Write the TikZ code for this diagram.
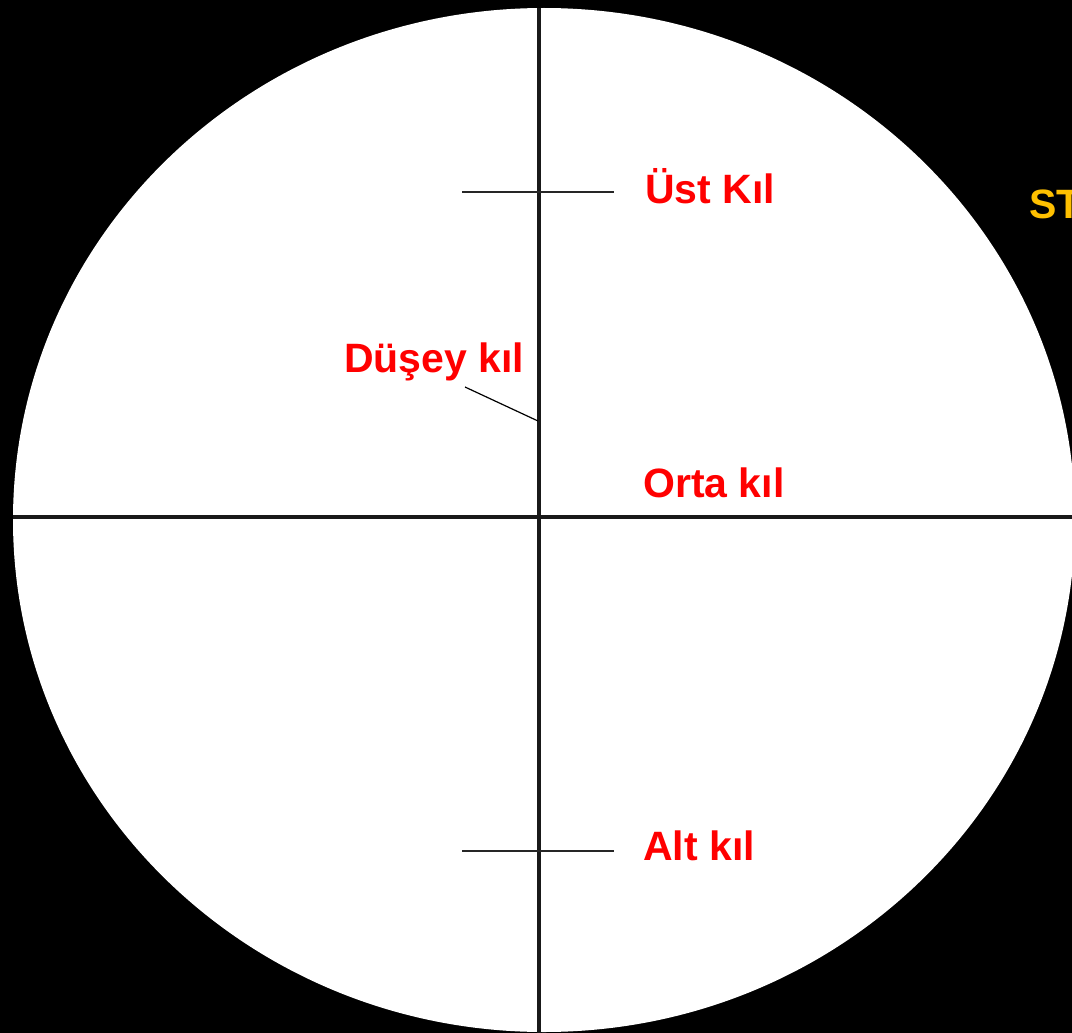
\documentclass[tikz,border=0pt]{standalone}
\usepackage{fontspec}
\setmainfont{Liberation Sans}
\usetikzlibrary{calc}

\begin{document}
\begin{tikzpicture}[x=1pt,y=-1pt,
  hair/.style={line width=3.2pt,black!90},
  tick/.style={line width=2pt,black!85},
  lab/.style={anchor=base west,inner sep=0pt,text=red,font=\fontsize{41}{48}\bfseries\selectfont}]
\useasboundingbox (0,0) rectangle (1072,1033);
\clip (0,0) rectangle (1072,1033);
\fill[black] (0,0) rectangle (1072,1033);
% field of view
\coordinate (O) at (544,520);
\fill[white] (O) ellipse [x radius=531, y radius=512];
% crosshair
\coordinate (L) at (13,517); \coordinate (R) at (1072,517);
\coordinate (T) at (539,8); \coordinate (B) at (539,1033);
\draw[hair] (L)--(R);
\draw[hair] (T)--(B);
\coordinate (U1) at (462,192); \coordinate (U2) at (614,192);
\coordinate (A1) at (462,851); \coordinate (A2) at (614,851);
\draw[tick] (U1)--(U2);
\draw[tick] (A1)--(A2);
% labels
\node[lab] (ust) at (645,203) {Üst Kıl};
\node[lab] (dusey) at (344,372) {Düşey kıl};
\node[lab] (orta) at (643,497) {Orta kıl};
\node[lab] (alt) at (643,860) {Alt kıl};
\node[anchor=base west,inner sep=0pt,text={rgb,255:red,255;green,192;blue,0},
  font=\fontsize{41}{48}\bfseries\selectfont] (st) at (1029,218) {ST};
\coordinate (D1) at (465,387); \coordinate (D2) at (538,421);
\draw[line width=1.2pt] (D1)--(D2);
\end{tikzpicture}
\end{document}
